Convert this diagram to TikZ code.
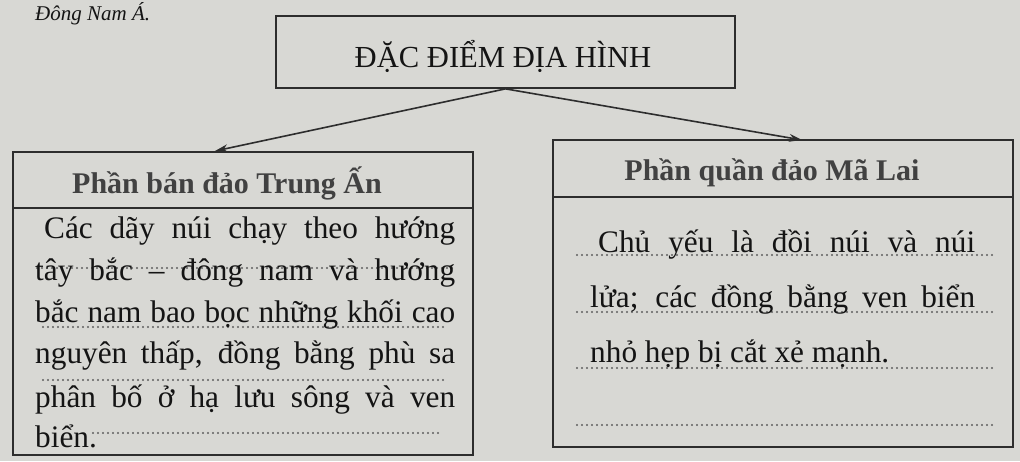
\documentclass[tikz,border=0pt]{standalone}
\usepackage{fontspec}
\setmainfont{Liberation Serif}
\usetikzlibrary{arrows.meta}
\definecolor{paper}{RGB}{216,216,212}
\definecolor{ink}{RGB}{45,45,45}
\definecolor{txt}{RGB}{20,20,20}
\definecolor{head}{RGB}{65,65,65}
\definecolor{dotc}{RGB}{95,95,95}
\tikzset{
  box/.style={draw=ink, line width=1.7pt, rectangle, inner sep=0pt},
  divider/.style={draw=ink, line width=1.5pt},
  link/.style={draw=ink, line width=1.6pt, -{Stealth[length=13pt,width=8pt]}},
  dotline/.style={draw=dotc, line width=2.4pt, line cap=round, dash pattern=on 0pt off 5pt},
  body/.style={inner sep=0pt, anchor=base west, text=txt, font=\fontsize{31.3}{31}\selectfont},
  title/.style={inner sep=0pt, anchor=base, text=txt, font=\fontsize{30.6}{31}\selectfont},
  headtxt/.style={inner sep=0pt, anchor=base, text=head, font=\fontsize{30}{31}\selectfont\bfseries}
}
\begin{document}
\begin{tikzpicture}[x=1pt,y=-1pt]
\fill[paper] (0,0) rectangle (1020,461);
\useasboundingbox (0,0) rectangle (1020,461);
% heading above the diagram
\node[inner sep=0pt, anchor=base west, text=txt, font=\fontsize{21}{22}\selectfont\itshape] (prev) at (35,20) {Đông Nam Á.};
% boxes
\node[box, minimum width=459pt, minimum height=72pt] (top) at (505.5,52) {};
\node[box, minimum width=460pt, minimum height=303pt] (left) at (243,303.5) {};
\node[box, minimum width=460pt, minimum height=307pt] (right) at (783,293.5) {};
% dividers
\coordinate (ldw) at (13,208);
\coordinate (lde) at (473,208);
\coordinate (rdw) at (553,197);
\coordinate (rde) at (1013,197);
\draw[divider] (ldw) -- (lde);
\draw[divider] (rdw) -- (rde);
% arrows
\coordinate (lt) at (215,151);
\coordinate (rt) at (802,140);
\draw[link] (top.south) -- (lt);
\draw[link] (top.south) -- (rt);
% dotted lines left
\foreach \y/\a/\b in {268/37/455, 327/43/443, 380/43/443, 433/93/440}{
  \coordinate (la\y) at (\a,\y);
  \coordinate (lb\y) at (\b,\y);
  \draw[dotline] (la\y) -- (lb\y);
}
% dotted lines right
\foreach \y in {255,312,368,425}{
  \coordinate (ra\y) at (577,\y);
  \coordinate (rb\y) at (992,\y);
  \draw[dotline] (ra\y) -- (rb\y);
}
% titles
\node[title] (ttl) at (503,67) {ĐẶC ĐIỂM ĐỊA HÌNH};
\node[headtxt] (lh) at (227,193) {Phần bán đảo Trung Ấn};
\node[headtxt] (rh) at (772,180) {Phần quần đảo Mã Lai};
% left body
\node[body] (l1) at (44,238) {\makebox[411pt][s]{Các dãy núi chạy theo hướng}};
\node[body] (l2) at (35,280) {\makebox[420pt][s]{tây bắc – đông nam và hướng}};
\node[body] (l3) at (35,322) {\makebox[420pt][s]{bắc nam bao bọc những khối cao}};
\node[body] (l4) at (35,363) {\makebox[420pt][s]{nguyên thấp, đồng bằng phù sa}};
\node[body] (l5) at (35,407) {\makebox[420pt][s]{phân bố ở hạ lưu sông và ven}};
\node[body] (l6) at (35,447) {biển.};
% right body
\node[body] (r1) at (598,252) {\makebox[377pt][s]{Chủ yếu là đồi núi và núi}};
\node[body] (r2) at (590,307) {\makebox[385pt][s]{lửa; các đồng bằng ven biển}};
\node[body] (r3) at (590,362) {nhỏ hẹp bị cắt xẻ mạnh.};
\end{tikzpicture}
\end{document}
